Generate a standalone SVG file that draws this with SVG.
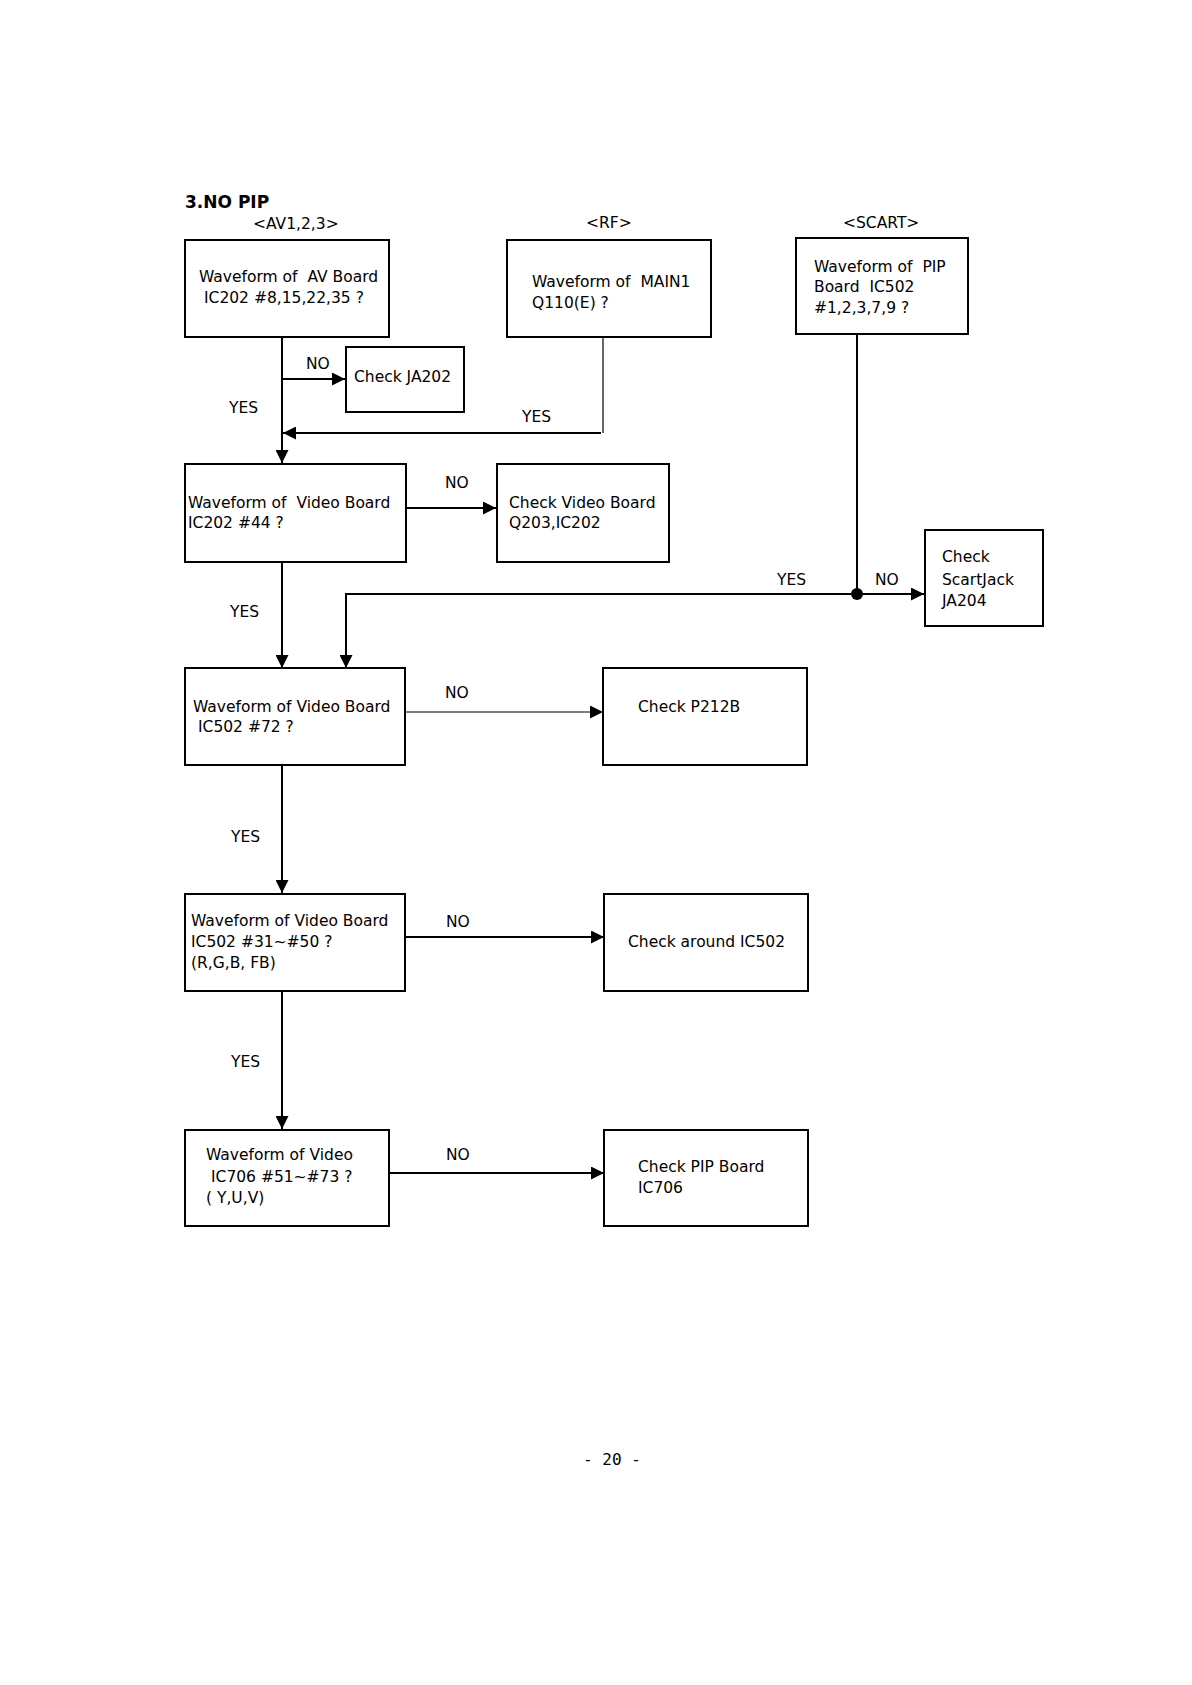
<svg xmlns="http://www.w3.org/2000/svg" width="1192" height="1685" viewBox="0 0 1192 1685" xml:space="preserve">
<style>
text{font-family:"DejaVu Sans","Liberation Sans",sans-serif;font-size:15.5px;fill:#000;white-space:pre}
.title{font-weight:bold;font-size:17px}
.pg{font-family:"DejaVu Sans Mono","Liberation Mono",monospace;font-size:16px}
.box{fill:#fff;stroke:#000;stroke-width:2}
.ln{fill:none;stroke:#000;stroke-width:2}
.thin{fill:none;stroke:#000;stroke-width:1.2}
</style>
<defs>
<marker id="ah" markerUnits="userSpaceOnUse" markerWidth="14" markerHeight="13" refX="13" refY="6.5" orient="auto">
<path d="M0,0 L13,6.5 L0,13 z" fill="#000"/>
</marker>
</defs>
<rect width="1192" height="1685" fill="#fff"/>
<text class="title" x="185" y="208">3.NO PIP</text>
<text x="253" y="229">&lt;AV1,2,3&gt;</text>
<text x="586" y="228">&lt;RF&gt;</text>
<text x="843" y="228">&lt;SCART&gt;</text>

<g id="connectors">
<line class="ln" x1="282" y1="337" x2="282" y2="463" marker-end="url(#ah)"/>
<line class="ln" x1="282" y1="379" x2="345" y2="379" marker-end="url(#ah)"/>
<line class="thin" x1="603" y1="337" x2="603" y2="433"/>
<line class="ln" x1="601" y1="433" x2="283" y2="433" marker-end="url(#ah)"/>
<line class="ln" x1="406" y1="508" x2="496" y2="508" marker-end="url(#ah)"/>
<line class="ln" x1="282" y1="562" x2="282" y2="668" marker-end="url(#ah)"/>
<line class="ln" x1="857" y1="334" x2="857" y2="594"/>
<polyline class="ln" points="857,594 346,594 346,668" marker-end="url(#ah)"/>
<line class="ln" x1="857" y1="594" x2="924" y2="594" marker-end="url(#ah)"/>
<circle cx="857" cy="594" r="6" fill="#000"/>
<line class="thin" x1="405" y1="712" x2="603" y2="712" marker-end="url(#ah)"/>
<line class="ln" x1="282" y1="765" x2="282" y2="893" marker-end="url(#ah)"/>
<line class="ln" x1="405" y1="937" x2="604" y2="937" marker-end="url(#ah)"/>
<line class="ln" x1="282" y1="991" x2="282" y2="1129" marker-end="url(#ah)"/>
<line class="ln" x1="390" y1="1173" x2="604" y2="1173" marker-end="url(#ah)"/>
<text x="306" y="369">NO</text>
<text x="229" y="413">YES</text>
<text x="522" y="422">YES</text>
<text x="445" y="488">NO</text>
<text x="230" y="617">YES</text>
<text x="777" y="585">YES</text>
<text x="875" y="585">NO</text>
<text x="445" y="698">NO</text>
<text x="231" y="842">YES</text>
<text x="446" y="927">NO</text>
<text x="231" y="1067">YES</text>
<text x="446" y="1160">NO</text>
</g>

<g id="n_av">
<rect class="box" x="185" y="240" width="204" height="97"/>
<text x="199" y="282">Waveform of  AV Board</text>
<text x="204" y="303">IC202 #8,15,22,35 ?</text>
</g>
<g id="n_rf">
<rect class="box" x="507" y="240" width="204" height="97"/>
<text x="532" y="287">Waveform of  MAIN1</text>
<text x="532" y="308">Q110(E) ?</text>
</g>
<g id="n_scart">
<rect class="box" x="796" y="238" width="172" height="96"/>
<text x="814" y="272">Waveform of  PIP</text>
<text x="814" y="292">Board  IC502</text>
<text x="814" y="313">#1,2,3,7,9 ?</text>
</g>
<g id="n_ja202">
<rect class="box" x="346" y="347" width="118" height="65"/>
<text x="354" y="382">Check JA202</text>
</g>
<g id="n_vb44">
<rect class="box" x="185" y="464" width="221" height="98"/>
<text x="188" y="508">Waveform of  Video Board</text>
<text x="188" y="528">IC202 #44 ?</text>
</g>
<g id="n_chkvb">
<rect class="box" x="497" y="464" width="172" height="98"/>
<text x="509" y="508">Check Video Board</text>
<text x="509" y="528">Q203,IC202</text>
</g>
<g id="n_scartjack">
<rect class="box" x="925" y="530" width="118" height="96"/>
<text x="942" y="562">Check</text>
<text x="942" y="585">ScartJack</text>
<text x="942" y="606">JA204</text>
</g>
<g id="n_vb72">
<rect class="box" x="185" y="668" width="220" height="97"/>
<text x="193" y="712">Waveform of Video Board</text>
<text x="198" y="732">IC502 #72 ?</text>
</g>
<g id="n_p212b">
<rect class="box" x="603" y="668" width="204" height="97"/>
<text x="638" y="712">Check P212B</text>
</g>
<g id="n_vb31">
<rect class="box" x="185" y="894" width="220" height="97"/>
<text x="191" y="926">Waveform of Video Board</text>
<text x="191" y="947">IC502 #31~#50 ?</text>
<text x="191" y="968">(R,G,B, FB)</text>
</g>
<g id="n_around">
<rect class="box" x="604" y="894" width="204" height="97"/>
<text x="628" y="947">Check around IC502</text>
</g>
<g id="n_ic706">
<rect class="box" x="185" y="1130" width="204" height="96"/>
<text x="206" y="1160">Waveform of Video</text>
<text x="211" y="1182">IC706 #51~#73 ?</text>
<text x="206" y="1203">( Y,U,V)</text>
</g>
<g id="n_pipboard">
<rect class="box" x="604" y="1130" width="204" height="96"/>
<text x="638" y="1172">Check PIP Board</text>
<text x="638" y="1193">IC706</text>
</g>
<text class="pg" x="583" y="1465">- 20 -</text>
</svg>
